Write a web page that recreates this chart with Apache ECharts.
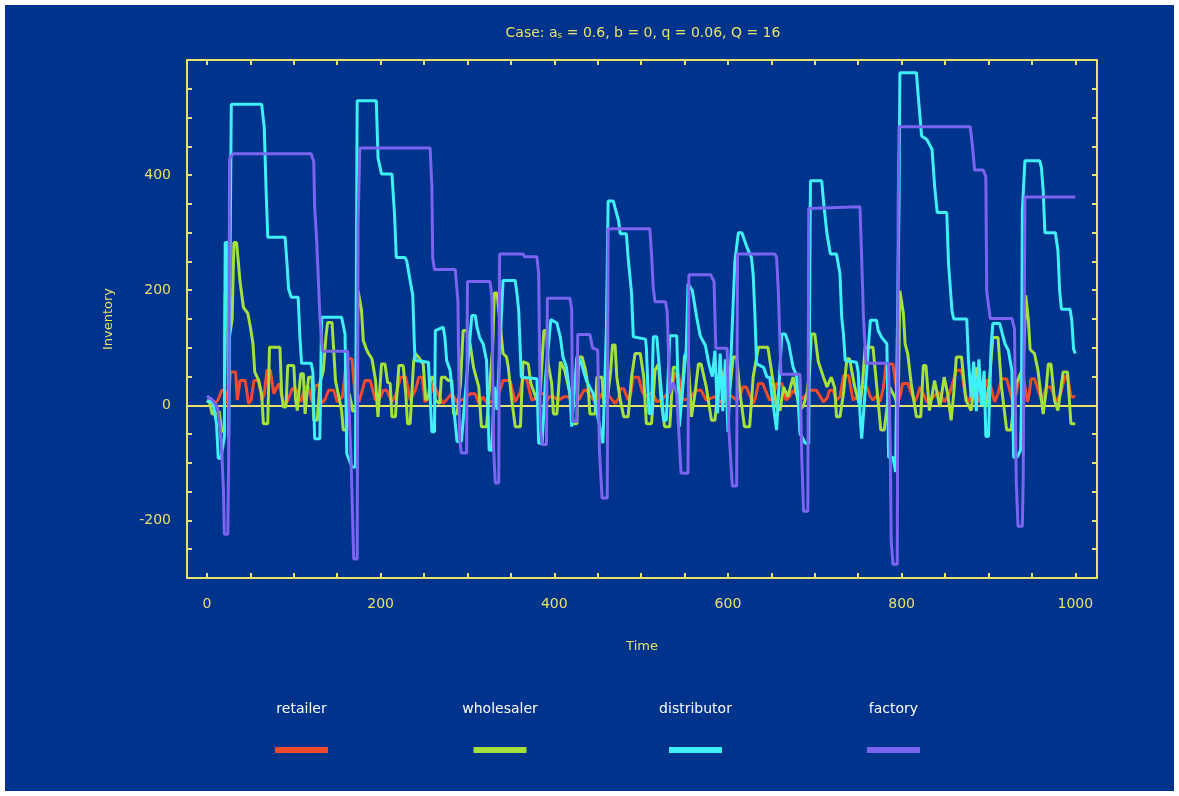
<!DOCTYPE html>
<html>
<head>
<meta charset="utf-8">
<script src="https://cdn.jsdelivr.net/npm/echarts@6/dist/echarts.min.js"></script>
<style>
  html, body { margin: 0; padding: 0; background: #ffffff; }
  #main { position: absolute; left: 5px; top: 5px; width: 1169px; height: 786px; }
</style>
</head>
<body>
<div id="main"></div>
<script>
// ---------------- data ----------------
const seriesNames = ['retailer', 'wholesaler', 'distributor', 'factory'];
const seriesColors = ['#f24a2c', '#a6e03c', '#40f0f8', '#7a64f0'];

const xTickValues = [0,50,100,150,200,250,300,350,400,450,500,550,600,650,700,750,800,850,900,950,1000];
const xLabelValues = [0,200,400,600,800,1000];
const yLabelValues = [-200, 0, 200, 400];

const retailer = [
[0,9],[5,5],[9,3],[13,10],[17,26],[21,26],[23,3],[25,10],[27,58],[33,58],[35,9],[38,43],[44,43],[48,3],[51,10],[54,43],[60,43],[63,9],[66,20],[69,61],[73,61],[77,20],[80,30],[83,38],[88,3],[93,8],[98,29],[102,29],[108,6],[113,32],[117,32],[121,6],[125,35],[129,35],[132,3],[136,10],[140,26],[146,26],[150,6],[156,15],[161,81],[167,81],[171,9],[175,6],[182,43],[188,43],[194,9],[199,12],[203,26],[207,26],[213,6],[218,20],[223,49],[229,49],[234,9],[240,26],[244,49],[248,49],[251,6],[256,12],[261,38],[266,20],[272,3],[277,12],[282,20],[288,6],[293,9],[298,12],[303,20],[309,20],[313,3],[318,15],[323,3],[330,8],[336,20],[341,43],[349,43],[355,6],[360,20],[364,46],[368,46],[374,9],[378,12],[382,20],[388,20],[391,6],[394,15],[399,15],[405,9],[411,15],[416,15],[424,3],[429,12],[434,26],[437,26],[447,6],[451,10],[455,20],[461,20],[470,3],[474,12],[476,29],[480,29],[485,9],[488,20],[491,49],[497,49],[501,25],[505,15],[510,20],[514,20],[518,6],[524,10],[530,20],[535,30],[539,55],[543,55],[548,9],[556,12],[560,20],[564,26],[569,26],[575,9],[580,12],[585,15],[590,8],[594,3],[600,20],[605,15],[610,9],[614,15],[617,32],[621,32],[629,3],[632,15],[635,38],[640,38],[648,9],[652,15],[656,38],[662,38],[667,9],[671,15],[675,26],[679,20],[683,9],[688,15],[694,26],[702,26],[710,6],[714,12],[717,26],[721,26],[725,9],[729,15],[733,52],[739,52],[744,9],[749,15],[754,32],[760,32],[764,15],[767,9],[771,17],[775,6],[779,30],[782,72],[790,72],[796,6],[799,20],[801,38],[807,38],[815,6],[818,15],[821,32],[825,20],[829,6],[835,12],[842,23],[846,15],[849,6],[855,20],[859,40],[863,61],[869,61],[873,20],[877,6],[882,23],[886,20],[890,6],[894,20],[898,43],[901,43],[907,6],[911,20],[915,46],[921,46],[928,6],[932,20],[936,52],[940,52],[945,6],[947,20],[949,46],[953,46],[961,9],[964,20],[967,32],[972,32],[978,6],[983,20],[988,50],[991,50],[995,15],[1000,15]
];

const wholesaler = [
[0,8],[3,5],[6,-15],[11,-15],[14,-10],[17,-45],[20,-45],[21,194],[24,194],[26,120],[29,150],[31,283],[34,283],[36,251],[38,216],[42,170],[47,160],[50,136],[53,107],[55,58],[59,45],[63,20],[65,-32],[70,-32],[72,101],[84,101],[86,20],[88,-3],[91,-3],[93,69],[100,69],[102,10],[104,-9],[106,-9],[108,55],[111,55],[113,-15],[115,-15],[117,49],[121,49],[123,-26],[127,-26],[130,38],[134,60],[137,120],[139,144],[144,144],[146,95],[148,43],[151,21],[155,-8],[157,-43],[161,-43],[164,20],[168,-10],[172,-10],[174,199],[176,199],[178,165],[180,113],[183,100],[186,90],[190,81],[194,45],[197,-20],[199,-20],[201,72],[205,72],[208,40],[211,38],[213,-20],[217,-20],[221,69],[226,69],[229,20],[231,-32],[234,-32],[238,76],[240,90],[245,81],[249,72],[252,9],[255,15],[258,49],[261,49],[263,9],[268,3],[270,49],[274,49],[278,43],[282,43],[284,-15],[288,-15],[292,38],[295,130],[299,130],[303,107],[307,66],[313,32],[316,-37],[322,-37],[326,43],[329,100],[331,195],[334,195],[337,151],[341,90],[345,84],[347,66],[351,9],[355,-37],[361,-37],[364,76],[370,72],[373,38],[380,9],[384,26],[388,130],[391,130],[393,72],[397,38],[399,-15],[403,-15],[407,76],[412,61],[418,20],[422,-32],[426,-32],[428,84],[432,84],[436,61],[439,32],[441,-15],[447,-15],[449,49],[455,49],[457,3],[461,9],[465,60],[467,105],[470,105],[472,49],[476,9],[480,-20],[485,-20],[489,49],[493,90],[499,90],[503,49],[506,-32],[512,-32],[516,61],[520,72],[523,9],[527,-37],[533,-37],[537,66],[541,66],[545,-3],[548,40],[550,87],[554,87],[558,-20],[562,20],[566,72],[569,72],[575,32],[581,-26],[585,-26],[591,66],[595,43],[600,-3],[603,40],[606,84],[610,84],[614,20],[619,-37],[625,-37],[629,49],[635,101],[646,101],[650,61],[656,-3],[660,-9],[664,32],[669,15],[675,49],[679,20],[683,-9],[687,0],[691,20],[694,60],[696,124],[700,124],[704,76],[710,49],[714,32],[719,49],[723,30],[725,-20],[729,-20],[733,20],[737,81],[740,81],[746,32],[752,-3],[755,40],[758,101],[764,101],[767,101],[771,38],[776,-43],[780,-43],[786,32],[792,15],[796,-3],[798,199],[800,199],[802,160],[804,107],[807,90],[811,38],[817,-20],[822,-20],[825,69],[828,69],[832,-9],[838,43],[844,-3],[849,49],[853,20],[857,-26],[860,20],[863,84],[869,84],[874,9],[880,-9],[886,66],[892,15],[897,-3],[901,40],[905,118],[911,118],[915,32],[921,-43],[926,-43],[932,38],[940,66],[943,191],[945,191],[946,147],[948,97],[953,90],[957,61],[963,-15],[966,20],[969,72],[972,72],[976,9],[980,-9],[986,58],[991,58],[995,-32],[1000,-32]
];

const distributor = [
[0,8],[7,5],[11,-32],[13,-92],[16,-92],[20,-55],[21,283],[24,283],[25,-55],[27,-55],[28,523],[63,523],[66,482],[68,378],[70,292],[90,292],[92,250],[94,202],[97,188],[105,188],[107,119],[109,73],[120,73],[122,58],[124,-58],[130,-58],[132,153],[155,153],[159,124],[161,-84],[167,-107],[171,-107],[173,529],[195,529],[197,430],[201,402],[213,402],[216,332],[218,257],[228,257],[230,251],[237,191],[239,99],[240,78],[255,75],[259,-46],[262,-46],[263,130],[272,136],[274,118],[276,78],[280,61],[288,-63],[293,-63],[305,156],[309,156],[311,136],[314,118],[318,107],[322,78],[325,-78],[328,-78],[331,32],[334,-8],[341,217],[355,217],[357,194],[359,165],[362,49],[380,46],[382,-66],[386,-66],[390,50],[396,149],[403,143],[407,118],[410,84],[414,66],[418,20],[420,-37],[422,-37],[426,84],[430,78],[437,43],[445,20],[456,-66],[460,133],[462,355],[468,355],[470,343],[474,321],[476,298],[483,298],[485,257],[489,194],[491,119],[505,115],[506,101],[509,-14],[512,-14],[514,119],[518,119],[526,-26],[529,-26],[533,121],[541,121],[544,-37],[546,-37],[552,100],[554,211],[559,199],[564,153],[568,121],[574,104],[578,72],[582,50],[585,95],[588,-14],[591,90],[594,-10],[597,80],[600,-46],[602,-46],[608,251],[612,300],[616,300],[622,274],[627,257],[629,228],[631,159],[633,72],[641,66],[645,49],[648,49],[656,-43],[658,-43],[662,124],[666,124],[670,107],[672,90],[675,66],[679,52],[683,-49],[689,-66],[693,-66],[695,390],[708,390],[710,355],[714,298],[718,263],[725,263],[729,228],[731,153],[733,124],[735,78],[748,75],[750,58],[752,-14],[754,-58],[756,-58],[764,148],[771,148],[773,130],[777,118],[783,107],[785,-90],[790,-90],[793,-116],[795,-116],[797,349],[798,578],[817,578],[819,540],[823,468],[829,462],[835,445],[838,381],[841,335],[852,335],[854,246],[858,164],[860,150],[875,150],[877,78],[880,14],[883,76],[886,-10],[889,80],[892,0],[895,60],[897,-54],[900,-54],[903,100],[905,142],[913,142],[916,124],[919,107],[923,95],[927,60],[929,-90],[933,-90],[937,-78],[938,0],[939,338],[942,425],[959,425],[961,413],[963,373],[965,300],[977,300],[980,269],[982,199],[984,167],[994,167],[996,147],[998,98],[1000,90]
];

const factory = [
[0,16],[6,10],[12,-3],[15,-40],[17,-80],[19,-150],[20,-224],[24,-224],[25,-90],[26,428],[30,437],[120,437],[123,423],[124,345],[126,296],[128,230],[130,154],[133,94],[162,94],[164,-20],[166,-97],[169,-267],[173,-267],[174,313],[176,447],[257,447],[259,380],[260,255],[262,236],[286,236],[289,180],[291,-60],[293,-83],[299,-83],[300,215],[326,215],[328,190],[330,-70],[332,-135],[336,-135],[337,263],[364,263],[366,258],[380,258],[382,229],[384,-40],[386,-68],[391,-68],[392,186],[418,186],[420,168],[421,-28],[426,-28],[427,123],[441,123],[444,100],[450,96],[452,-80],[455,-161],[461,-161],[462,307],[510,307],[512,262],[514,203],[516,180],[528,180],[530,163],[533,20],[537,40],[541,20],[546,-118],[554,-118],[555,227],[580,227],[584,215],[586,99],[599,99],[601,-40],[605,-140],[610,-140],[611,263],[654,263],[656,257],[658,198],[661,54],[683,54],[685,-90],[687,-184],[692,-184],[693,342],[752,345],[754,255],[756,154],[759,73],[785,73],[787,-90],[788,-236],[790,-276],[795,-276],[796,348],[797,484],[879,484],[882,444],[884,409],[894,409],[897,397],[898,198],[902,151],[927,151],[930,133],[932,-132],[934,-210],[939,-210],[940,-130],[942,362],[1000,362]
];

const seriesData = [retailer, wholesaler, distributor, factory];

// ---------------- style ----------------
const BG = '#00338c';
const YEL = '#e8e26a';
const FONT = 'DejaVu Sans';
const legendCenters = [296.5, 495, 690.5, 888.5];

const chart = echarts.init(document.getElementById('main'));

const legends = [];
seriesNames.forEach((n, i) => {
  legends.push({
    data: [n], left: legendCenters[i] - 65, top: 697, padding: 0,
    selectedMode: false, icon: 'rect', itemWidth: 0, itemHeight: 0,
    itemStyle: { opacity: 0 },
    formatter: name => '{c|' + name + '}',
    textStyle: { rich: { c: { width: 120, align: 'center', color: '#ffffff', fontSize: 14, fontFamily: FONT } } }
  });
  legends.push({
    data: [n], left: legendCenters[i] - 26.5, top: 742, padding: 0,
    selectedMode: false, icon: 'rect', itemWidth: 53, itemHeight: 6,
    formatter: () => '', textStyle: { fontSize: 1 }
  });
});

const tickStyle = { color: YEL, width: 2 };

const option = {
  backgroundColor: BG,
  animation: false,
  title: {
    text: '{n|Case: a}{s|s}{n| = 0.6, b = 0, q = 0.06, Q = 16}',
    left: 638, top: 21, padding: 0, textAlign: 'center',
    textStyle: {
      fontWeight: 'normal',
      rich: {
        n: { fontSize: 14, color: YEL, fontFamily: FONT, fontWeight: 'normal' },
        s: { fontSize: 9, color: YEL, fontFamily: FONT, fontWeight: 'normal', verticalAlign: 'bottom' }
      }
    }
  },
  legend: legends,
  grid: { left: 182, top: 55, width: 910, height: 518, containLabel: false },
  xAxis: [
    {
      type: 'value', min: -23, max: 1025, position: 'bottom',
      axisLine: { onZero: false, lineStyle: tickStyle },
      axisTick: { inside: true, length: 5, customValues: xTickValues, lineStyle: tickStyle },
      axisLabel: { customValues: xLabelValues, color: YEL, fontSize: 14, fontFamily: FONT, margin: 19,
                   formatter: v => String(v) },
      splitLine: { show: false },
      name: 'Time', nameLocation: 'middle', nameGap: 62,
      nameTextStyle: { color: YEL, fontSize: 13, fontFamily: FONT }
    },
    {
      type: 'value', min: -23, max: 1025, position: 'top',
      axisLine: { onZero: false, lineStyle: tickStyle },
      axisTick: { inside: true, length: 5, customValues: xTickValues, lineStyle: tickStyle },
      axisLabel: { show: false }, splitLine: { show: false }
    },
    {
      type: 'value', min: -23, max: 1025, position: 'bottom',
      axisLine: { onZero: true, onZeroAxisIndex: 0, lineStyle: tickStyle },
      axisTick: { show: false }, axisLabel: { show: false }, splitLine: { show: false }
    }
  ],
  yAxis: [
    {
      type: 'value', min: -300, max: 600, interval: 50, position: 'left',
      axisLine: { show: true, onZero: false, lineStyle: tickStyle },
      axisTick: { inside: true, length: 5, lineStyle: tickStyle },
      axisLabel: {
        color: YEL, fontSize: 14, fontFamily: FONT, margin: 16,
        formatter: v => (yLabelValues.indexOf(v) >= 0 ? String(v) : '')
      },
      splitLine: { show: false },
      name: 'Inventory', nameLocation: 'middle', nameGap: 72,
      nameTextStyle: { color: YEL, fontSize: 13, fontFamily: FONT }
    },
    {
      type: 'value', min: -300, max: 600, interval: 50, position: 'right',
      axisLine: { show: true, onZero: false, lineStyle: tickStyle },
      axisTick: { inside: true, length: 5, lineStyle: tickStyle },
      axisLabel: { show: false }, splitLine: { show: false }
    }
  ],
  series: seriesNames.map((n, i) => ({
    name: n, type: 'line', xAxisIndex: 0, yAxisIndex: 0,
    data: seriesData[i], showSymbol: false, symbol: 'none', silent: true,
    color: seriesColors[i],
    lineStyle: { color: seriesColors[i], width: 3, cap: 'butt', join: 'bevel' }
  }))
};

chart.setOption(option);
</script>
</body>
</html>
